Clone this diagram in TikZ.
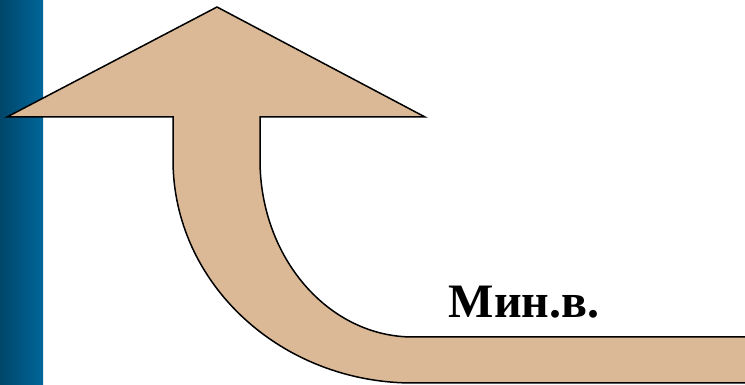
\documentclass[tikz,border=0pt]{standalone}
\usepackage{fontspec}
\setmainfont{Liberation Serif}
\definecolor{tan}{RGB}{219,185,150}
\definecolor{bardark}{RGB}{0,70,106}
\definecolor{barlight}{RGB}{0,102,153}
\tikzset{arrowshape/.style={fill=tan,draw=black,line width=1.5pt,line join=miter},
  lbl/.style={font=\fontsize{48}{58}\selectfont\bfseries,anchor=base,inner sep=0pt}}
\begin{document}
\begin{tikzpicture}[x=1pt,y=1pt]
\useasboundingbox (0,0) rectangle (745,385);
\fill[left color=bardark,right color=barlight] (0,0) rectangle (43,385);
\draw[arrowshape] (7,268) -- (217,378) -- (425,268) -- (260,268) -- (260,225)
  arc[start angle=180,end angle=270,x radius=153,y radius=177]
  -- (746,48) -- (746,2) -- (413,2)
  arc[start angle=270,end angle=180,x radius=240,y radius=223]
  -- (173,268) -- cycle;
\node[lbl] (t) at (524,67) {Мин.в.};
\end{tikzpicture}
\end{document}
